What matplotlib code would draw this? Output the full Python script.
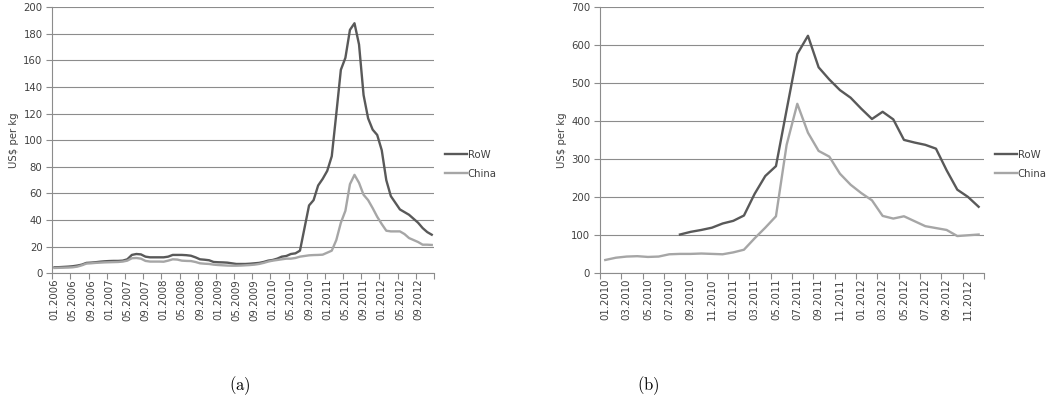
import numpy as np
import matplotlib.pyplot as plt

plt.rcParams['mathtext.fontset'] = 'cm'

# (a) monthly prices 01.2006 - 12.2012
row_a = [4.5, 4.6, 4.8, 5.0, 5.3, 5.8, 6.5, 7.8, 8.0, 8.3, 8.7, 9.0,
         9.2, 9.3, 9.3, 9.5, 10.5, 13.8, 14.5, 14.2, 12.5, 12.0, 12.0, 12.0,
         12.0, 12.5, 13.8, 13.8, 13.8, 13.6, 13.2, 12.0, 10.5, 10.2, 9.8, 8.5,
         8.3, 8.2, 8.0, 7.5, 7.0, 7.0, 7.0, 7.2, 7.5, 7.8, 8.5, 9.5,
         10.0, 11.0, 12.5, 13.0, 14.5, 15.0, 17.0, 34.0, 51.0, 55.0, 66.0, 71.0,
         77.0, 88.0, 120.0, 153.0, 162.0, 183.0, 188.0, 172.0, 134.0, 116.5, 108.0, 104.0,
         92.5, 70.0, 58.0, 53.0, 48.0, 46.0, 44.0, 41.0, 38.0, 34.0, 31.0, 29.0]
china_a = [4.0, 4.1, 4.2, 4.3, 4.5, 5.0, 6.0, 7.3, 7.5, 7.8, 8.0, 8.2,
           8.3, 8.4, 8.5, 8.8, 9.5, 11.3, 11.5, 11.0, 9.3, 8.8, 8.8, 8.8,
           8.7, 9.5, 10.5, 10.3, 9.5, 9.3, 9.2, 8.5, 7.5, 7.2, 7.0, 6.5,
           6.2, 6.0, 5.8, 5.7, 5.7, 5.8, 6.0, 6.2, 6.5, 7.0, 7.8, 8.8,
           9.5, 10.0, 10.5, 11.0, 11.0, 11.5, 12.5, 13.0, 13.5, 13.7, 13.8, 14.0,
           15.5, 17.0, 25.0, 38.0, 47.0, 67.0, 74.0, 68.0, 59.0, 55.0, 49.0, 42.5,
           37.0, 32.0, 31.5, 31.5, 31.5, 29.5, 26.5, 25.0, 23.5, 21.5, 21.5, 21.3]
labels_a = ['01.2006', '05.2006', '09.2006', '01.2007', '05.2007', '09.2007',
            '01.2008', '05.2008', '09.2008', '01.2009', '05.2009', '09.2009',
            '01.2010', '05.2010', '09.2010', '01.2011', '05.2011', '09.2011',
            '01.2012', '05.2012', '09.2012']

# (b) monthly prices 01.2010 - 12.2012
row_b = [None, None, None, None, None, None, None, 102, 109, 114, 120, 131,
         138, 152, 209, 256, 282, 430, 577, 625, 542, 510, 482, 462,
         433, 406, 425, 405, 351, 344, 338, 328, 271, 220, 201, 175]
china_b = [35, 41, 44, 45, 43, 44, 50, 51, 51, 52, 51, 50,
           55, 62, 92, 120, 150, 338, 446, 370, 322, 307, 262, 233,
           211, 192, 151, 144, 150, 137, 124, 119, 114, 98, 100, 102]
labels_b = ['01.2010', '03.2010', '05.2010', '07.2010', '09.2010', '11.2010',
            '01.2011', '03.2011', '05.2011', '07.2011', '09.2011', '11.2011',
            '01.2012', '03.2012', '05.2012', '07.2012', '09.2012', '11.2012']

dark = '#595959'
light = '#a6a6a6'
axcol = '#8c8c8c'
txt = '#404040'
fs = 7.3


def draw(ax, row, china, labels, step, ymax, ystep):
    n = len(china)
    x = np.arange(n)
    ax.plot(x, np.array(row, dtype=float), color=dark, lw=1.7, label='RoW')
    ax.plot(x, np.array(china, dtype=float), color=light, lw=1.7, label='China')
    ax.set_xlim(-0.5, n - 0.5)
    ax.set_ylim(0, ymax)
    ax.set_yticks(np.arange(0, ymax + 1, ystep))
    ax.yaxis.grid(True, color=axcol, lw=0.8)
    ax.set_axisbelow(True)
    ax.set_xticks(np.arange(-0.5, n, step))
    ax.set_xticklabels([])
    ax.set_xticks(np.arange(0, n, step), minor=True)
    ax.set_xticklabels(labels, minor=True, rotation=90, fontsize=fs, color=txt)
    ax.tick_params(axis='x', which='major', length=4, color=axcol, width=0.8)
    ax.tick_params(axis='x', which='minor', length=0, pad=4)
    ax.tick_params(axis='y', length=4, color=axcol, width=0.8, labelsize=fs,
                   labelcolor=txt, pad=3)
    for s in ['top', 'right']:
        ax.spines[s].set_visible(False)
    for s in ['left', 'bottom']:
        ax.spines[s].set_color(axcol)
        ax.spines[s].set_linewidth(0.8)
    ax.set_ylabel(r'US\$ per kg', fontsize=fs, color=txt, labelpad=3)
    ax.legend(loc='center left', bbox_to_anchor=(1.01, 0.41), frameon=False,
              handlelength=2.2, handletextpad=0.05, labelspacing=0.9,
              borderaxespad=0.3, fontsize=fs, labelcolor=txt)


fig = plt.figure(figsize=(10.57, 4.0), dpi=100)
ax1 = fig.add_axes([0.0495, 0.3168, 0.3611, 0.665])
ax2 = fig.add_axes([0.5676, 0.3168, 0.3633, 0.665])

draw(ax1, row_a, china_a, labels_a, 4, 200, 20)
draw(ax2, row_b, china_b, labels_b, 2, 700, 100)

fig.text(0.227, 0.037, r'$\mathrm{(a)}$', fontsize=12, ha='center', va='center')
fig.text(0.613, 0.037, r'$\mathrm{(b)}$', fontsize=12, ha='center', va='center')

fig.savefig('out.png', dpi=100)
